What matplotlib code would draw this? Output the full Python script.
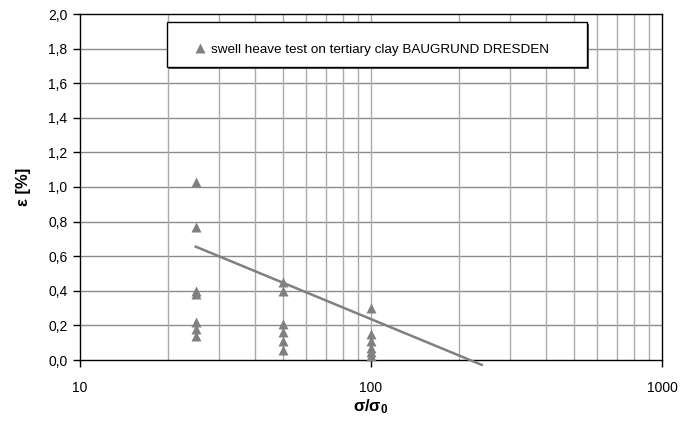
import matplotlib.pyplot as plt
from matplotlib.patches import Rectangle
from matplotlib.ticker import FixedLocator, FuncFormatter, NullFormatter

plt.rcParams['font.family'] = ['Liberation Sans', 'DejaVu Sans']
plt.rcParams['mathtext.fontset'] = 'custom'
plt.rcParams['mathtext.rm'] = 'Liberation Sans'
plt.rcParams['mathtext.bf'] = 'Liberation Sans:bold'
plt.rcParams['mathtext.it'] = 'Liberation Sans:italic'

# 试验数据 (σ/σ0, ε[%])
sigma_ratio = [25, 25, 25, 25, 25, 25, 25,
               50, 50, 50, 50, 50, 50,
               100, 100, 100, 100, 100, 100]
strain = [1.03, 0.77, 0.40, 0.38, 0.22, 0.18, 0.14,
          0.45, 0.40, 0.21, 0.16, 0.11, 0.06,
          0.30, 0.15, 0.11, 0.07, 0.045, 0.025]

# 回归直线端点
trend_x = [25, 240]
trend_y = [0.655, -0.028]

legend_label = 'swell heave test on tertiary clay BAUGRUND DRESDEN'
y_ticks = [0.0, 0.2, 0.4, 0.6, 0.8, 1.0, 1.2, 1.4, 1.6, 1.8, 2.0]
x_ticks = [10, 100, 1000]

fig = plt.figure(figsize=(6.96, 4.21), dpi=100)
ax = fig.add_axes([80 / 696, 61 / 421, 582 / 696, 346 / 421])

ax.set_xscale('log')
ax.set_xlim(10, 1000)
ax.set_ylim(0, 2.0)

# 网格线
for v in y_ticks[1:-1]:
    ax.axhline(v, color='#8c8c8c', lw=1.0, zorder=1)
minor_x = [m * 10 ** e for e in (1, 2) for m in range(2, 10)]
for v in minor_x + [100]:
    ax.axvline(v, color='#ababab', lw=1.0, zorder=1)

ax.plot(trend_x, trend_y, color='#808080', lw=1.8, zorder=3, clip_on=False)
ax.plot(sigma_ratio, strain, ls='none', marker='^', ms=7, color='#808080',
        mec='none', zorder=4, clip_on=False, label=legend_label)

ax.xaxis.set_major_locator(FixedLocator(x_ticks))
ax.xaxis.set_major_formatter(FuncFormatter(lambda v, p: f'{v:.0f}'))
ax.xaxis.set_minor_locator(FixedLocator([]))
ax.xaxis.set_minor_formatter(NullFormatter())
ax.set_yticks(y_ticks)
ax.yaxis.set_major_formatter(FuncFormatter(lambda v, p: f'{v:.1f}'.replace('.', ',')))
ax.tick_params(axis='both', direction='out', length=5, width=1, labelsize=10,
               colors='black')
ax.tick_params(axis='x', pad=10)
ax.tick_params(axis='y', pad=4)
for s in ax.spines.values():
    s.set_linewidth(1.0)
    s.set_color('black')

ax.set_ylabel('ε [%]', fontsize=12, fontweight='bold', labelpad=12)
ax.set_xlabel(r'$\mathbf{σ/σ_0}$', fontsize=12, labelpad=2)

# 图例框（带阴影）
box_x0, box_y0, box_w, box_h = 0.1495, 0.847, 0.7215, 0.130
px = 1.0 / 582
py = 1.0 / 346
ax.add_patch(Rectangle((box_x0 + 1.8 * px, box_y0 - 1.8 * py), box_w, box_h,
                       transform=ax.transAxes, facecolor='#505050',
                       edgecolor='none', zorder=5))
ax.add_patch(Rectangle((box_x0, box_y0), box_w, box_h, transform=ax.transAxes,
                       facecolor='white', edgecolor='black', lw=1.0, zorder=6))
leg = ax.legend(loc='center left', bbox_to_anchor=(0.197, 0.896), frameon=False,
                fontsize=9.7, handlelength=0.8, handletextpad=0.4, borderpad=0,
                borderaxespad=0, numpoints=1)
leg.set_zorder(7)

plt.savefig('out.png', dpi=100)
